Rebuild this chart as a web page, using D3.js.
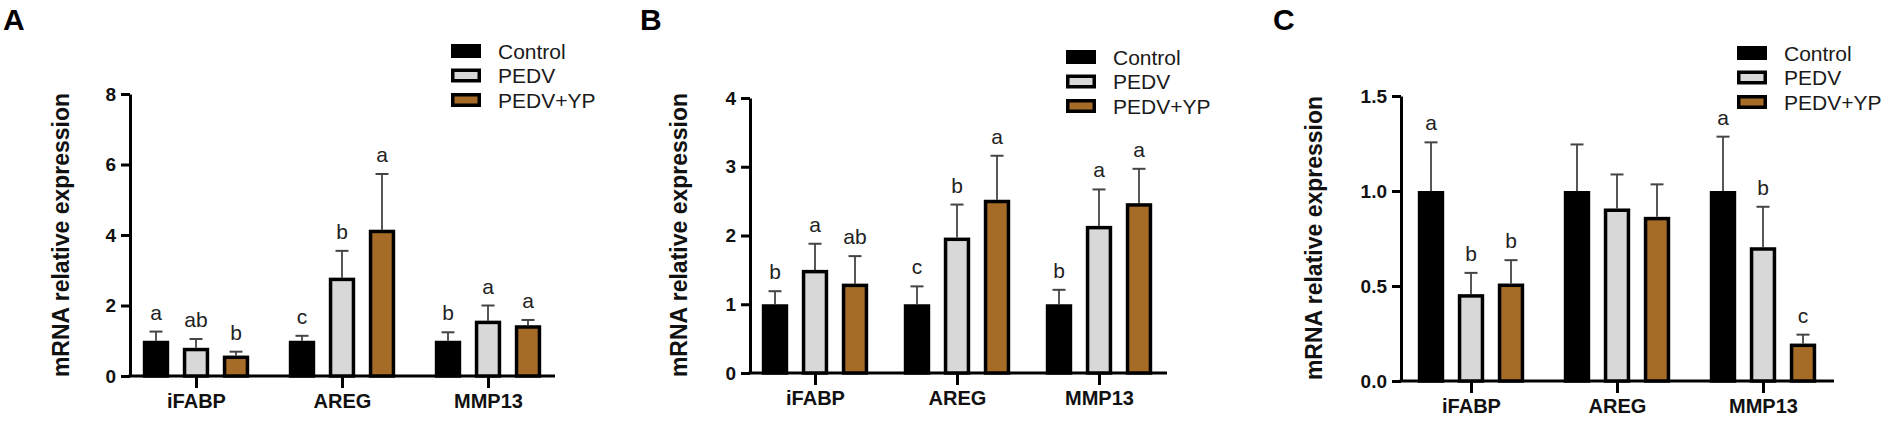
<!DOCTYPE html>
<html>
<head>
<meta charset="utf-8">
<script src="https://cdn.jsdelivr.net/npm/d3@7"></script>
<style>
  body { margin: 0; background: #fff; }
  text { font-family: Arial, "Liberation Sans", sans-serif; }
</style>
</head>
<body>
<svg id="chart" width="1901" height="432"></svg>
<script>
// data
var genes = ["iFABP", "AREG", "MMP13"];
var groups = ["Control", "PEDV", "PEDV+YP"];
var fills = ["#000000", "#d8d8d8", "#a66c27"];

// mean per gene (rows) and group (cols)
var meanA = [[1.0, 0.80, 0.58], [1.0, 2.79, 4.15], [1.0, 1.57, 1.44]];
var sdA = [[0.26, 0.25, 0.11], [0.14, 0.76, 1.58], [0.24, 0.43, 0.15]];
var letA = [["a", "ab", "b"], ["c", "b", "a"], ["b", "a", "a"]];
var ticksA = [0, 2, 4, 6, 8];

var meanB = [[1.0, 1.50, 1.30], [1.0, 1.97, 2.52], [1.0, 2.14, 2.47]];
var sdB = [[0.19, 0.38, 0.40], [0.26, 0.48, 0.64], [0.21, 0.53, 0.50]];
var letB = [["b", "a", "ab"], ["c", "b", "a"], ["b", "a", "a"]];
var ticksB = [0, 1, 2, 3, 4];

var meanC = [[1.0, 0.457, 0.513], [1.0, 0.908, 0.864], [1.0, 0.704, 0.197]];
var sdC = [[0.256, 0.112, 0.123], [0.245, 0.179, 0.171], [0.286, 0.213, 0.047]];
var letC = [["a", "b", "b"], ["", "", ""], ["a", "b", "c"]];
var ticksC = [0, 0.5, 1.0, 1.5];

var svg = d3.select("#chart");

function drawPanel(p) {
  var g = svg.append("g");

  var y = d3.scaleLinear().domain([0, p.ticks[p.ticks.length - 1]]).range([p.base, p.top]);
  var x = d3.scalePoint().domain(genes).range([p.ax + p.first, p.xEnd - p.last]);
  var xs = d3.scaleBand().domain(groups).range([-60, 60]).paddingInner(0.34).paddingOuter(0.17);

  // panel letter
  g.append("text").attr("x", p.lx).attr("y", 30)
    .style("font-size", "30px").style("font-weight", "bold").text(p.label);

  // y axis
  var yAxis = d3.axisLeft(y).tickValues(p.ticks).tickSize(9).tickSizeOuter(0).tickPadding(5)
    .tickFormat(p.fmt);
  var ya = g.append("g").attr("transform", "translate(" + p.ax + ",0)").call(yAxis);
  ya.select(".domain").attr("stroke", "#000").attr("stroke-width", 3);
  ya.selectAll(".tick line").attr("stroke", "#000").attr("stroke-width", 3);
  ya.selectAll(".tick text").attr("fill", "#111")
    .style("font-size", "19px").style("font-weight", "bold");

  // x axis
  var xAxis = d3.axisBottom(x).tickSize(12).tickPadding(6);
  var xa = g.append("g").attr("transform", "translate(0," + p.base + ")").call(xAxis);
  xa.select(".domain").remove();
  xa.selectAll(".tick line").attr("stroke", "#000").attr("stroke-width", 3);
  xa.selectAll(".tick text").attr("fill", "#111")
    .style("font-size", "20px").style("font-weight", "bold");
  g.append("line")
    .attr("x1", p.ax - 1.5).attr("x2", p.xEnd)
    .attr("y1", p.base).attr("y2", p.base)
    .attr("stroke", "#000").attr("stroke-width", 3);

  // y title
  g.append("text")
    .attr("transform", "translate(" + p.tx + "," + p.ty + ") rotate(-90)")
    .attr("text-anchor", "middle").attr("dy", "0.35em")
    .style("font-size", "23px").style("font-weight", "bold").attr("fill", "#111")
    .text("mRNA relative expression");

  // flatten into bar records
  var rows = [];
  genes.forEach(function(gene, i) {
    groups.forEach(function(grp, j) {
      rows.push({ gene: gene, grp: grp, j: j, m: p.mean[i][j], sd: p.sd[i][j], lab: p.lets[i][j] });
    });
  });

  var sw = 3.5;
  var bw = xs.bandwidth();

  // error bars (upper only)
  var eb = g.selectAll(".err").data(rows).enter().append("g").attr("class", "err");
  eb.append("line")
    .attr("x1", function(d) { return x(d.gene) + xs(d.grp) + bw / 2; })
    .attr("x2", function(d) { return x(d.gene) + xs(d.grp) + bw / 2; })
    .attr("y1", function(d) { return y(d.m); })
    .attr("y2", function(d) { return y(d.m + d.sd); })
    .attr("stroke", "#444").attr("stroke-width", 1.8);
  eb.append("line")
    .attr("x1", function(d) { return x(d.gene) + xs(d.grp) + bw / 2 - 6.5; })
    .attr("x2", function(d) { return x(d.gene) + xs(d.grp) + bw / 2 + 6.5; })
    .attr("y1", function(d) { return y(d.m + d.sd); })
    .attr("y2", function(d) { return y(d.m + d.sd); })
    .attr("stroke", "#444").attr("stroke-width", 2);

  // bars
  g.selectAll(".bar").data(rows).enter().append("rect").attr("class", "bar")
    .attr("x", function(d) { return x(d.gene) + xs(d.grp) + sw / 2; })
    .attr("width", bw - sw)
    .attr("y", function(d) { return y(d.m) + sw / 2; })
    .attr("height", function(d) { return Math.max(0, y(0) - y(d.m) - sw / 2); })
    .attr("fill", function(d) { return fills[d.j]; })
    .attr("stroke", "#000").attr("stroke-width", sw);

  // significance letters
  g.selectAll(".lab").data(rows).enter().append("text").attr("class", "lab")
    .attr("x", function(d) { return x(d.gene) + xs(d.grp) + bw / 2; })
    .attr("y", function(d) { return y(d.m + d.sd) - 12; })
    .attr("text-anchor", "middle").attr("fill", "#222")
    .style("font-size", "21px")
    .text(function(d) { return d.lab; });

  // legend
  var lg = g.append("g").attr("transform", "translate(" + p.legX + "," + p.legY + ")");
  groups.forEach(function(grp, j) {
    var row = lg.append("g").attr("transform", "translate(0," + (j * 24.5) + ")");
    if (j === 0) {
      row.append("rect").attr("x", 0).attr("y", -7).attr("width", 30).attr("height", 14).attr("fill", "#000");
    } else {
      row.append("rect").attr("x", 1.75).attr("y", -5.25).attr("width", 26.5).attr("height", 10.5)
        .attr("fill", fills[j]).attr("stroke", "#000").attr("stroke-width", 3.5);
    }
    row.append("text").attr("x", 47).attr("y", 0).attr("dy", "0.36em")
      .attr("fill", "#1a1a1a").style("font-size", "21px").text(grp);
  });
}

var fmt0 = d3.format("d");
var fmt1 = d3.format(".1f");

drawPanel({ label: "A", lx: 3, ax: 130, base: 376, top: 94, xEnd: 555, first: 66, last: 67,
  ticks: ticksA, fmt: fmt0, mean: meanA, sd: sdA, lets: letA, tx: 61, ty: 235, legX: 451, legY: 51 });
drawPanel({ label: "B", lx: 640, ax: 750, base: 373, top: 98, xEnd: 1167, first: 65, last: 68,
  ticks: ticksB, fmt: fmt0, mean: meanB, sd: sdB, lets: letB, tx: 679, ty: 235, legX: 1066, legY: 57 });
drawPanel({ label: "C", lx: 1273, ax: 1401, base: 381, top: 96, xEnd: 1834, first: 70, last: 71,
  ticks: ticksC, fmt: fmt1, mean: meanC, sd: sdC, lets: letC, tx: 1314, ty: 238, legX: 1737, legY: 53 });
</script>
</body>
</html>
